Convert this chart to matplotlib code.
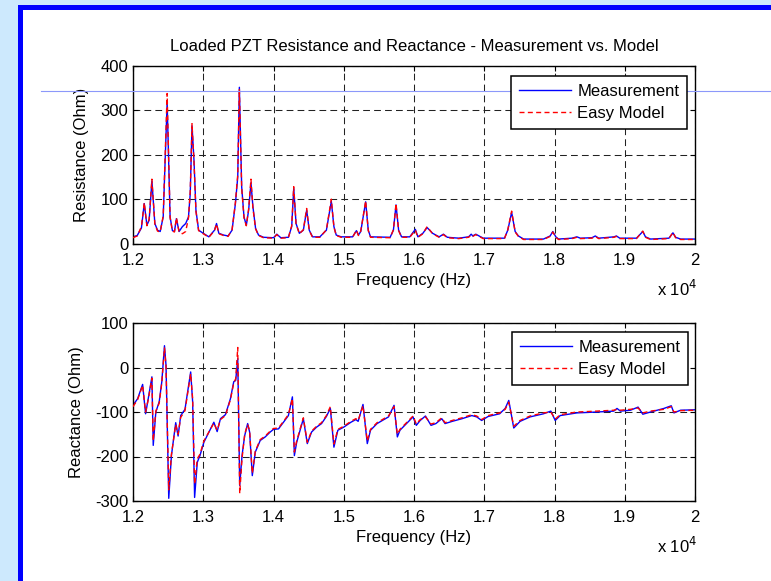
import matplotlib
matplotlib.use("Agg")
import matplotlib.pyplot as plt
from matplotlib.patches import Rectangle
from matplotlib.lines import Line2D
from matplotlib.ticker import FuncFormatter

# ---------------- data ----------------
freq_r = [12000, 12060, 12120, 12160, 12198, 12230, 12269, 12311, 12349, 12387,
          12430, 12486, 12528, 12561, 12590, 12618, 12656, 12703, 12750, 12790,
          12815, 12840, 12868, 12896, 12934, 13000, 13080, 13160, 13189, 13222,
          13290, 13354, 13410, 13458, 13491, 13514, 13547, 13580, 13613, 13646,
          13679, 13707, 13745, 13787, 13858, 14000, 14047, 14104, 14212, 14259,
          14288, 14321, 14368, 14425, 14472, 14509, 14556, 14660, 14753, 14823,
          14860, 14893, 14963, 15126, 15181, 15209, 15242, 15312, 15349, 15381,
          15660, 15707, 15744, 15781, 15823, 15940, 16019, 16056, 16126, 16186,
          16265, 16358, 16419, 16475, 16637, 16777, 16814, 16837, 16879, 16926,
          16986, 17288, 17335, 17390, 17440, 17486, 17560, 17843, 17938, 17976,
          18019, 18057, 18248, 18319, 18367, 18533, 18581, 18629, 18848, 18881,
          18929, 19167, 19257, 19295, 19367, 19629, 19686, 19724, 19795, 20000]

res_meas = [15, 18, 35, 90, 41, 53, 141, 45, 30, 27,
            60, 318, 60, 29, 27, 56, 27, 38, 45, 60,
            113, 265, 188, 75, 30, 23, 15, 30, 45, 23,
            19, 17, 30, 90, 150, 352, 128, 60, 41, 75,
            137, 83, 34, 19, 14, 13, 21, 13, 14, 38,
            124, 45, 23, 30, 75, 30, 15, 15, 30, 95,
            38, 19, 15, 15, 29, 19, 27, 94, 30, 15,
            14, 30, 87, 30, 15, 15, 32, 15, 23, 36,
            23, 15, 21, 14, 12, 15, 21, 17, 21, 17,
            12, 12, 30, 70, 27, 17, 10, 10, 17, 27,
            15, 10, 12, 15, 12, 13, 17, 12, 15, 17,
            12, 12, 27, 15, 10, 12, 24, 14, 10, 10]

res_model = [13, 17, 38, 92, 40, 55, 145, 44, 28, 26,
             62, 338, 58, 28, 26, 58, 26, 22, 27, 58,
             118, 270, 185, 72, 29, 22, 14, 29, 44, 22,
             18, 16, 31, 93, 155, 348, 125, 58, 40, 78,
             145, 80, 33, 18, 13, 12, 20, 12, 13, 40,
             128, 44, 22, 31, 79, 29, 14, 14, 31, 100,
             37, 18, 14, 14, 30, 18, 28, 96, 29, 14,
             13, 31, 90, 29, 14, 14, 30, 14, 22, 38,
             22, 14, 20, 13, 11, 14, 19, 16, 20, 16,
             11, 11, 31, 73, 26, 16, 9, 9, 16, 26,
             14, 9, 11, 14, 11, 12, 16, 11, 14, 16,
             11, 11, 28, 14, 9, 11, 25, 13, 9, 9]

freq_x = [12000, 12066, 12137, 12179, 12217, 12269, 12288, 12325, 12373, 12410,
          12448, 12470, 12509, 12547, 12608, 12642, 12679, 12740, 12821, 12849,
          12877, 12915, 12953, 13009, 13151, 13198, 13245, 13316, 13387, 13434,
          13462, 13491, 13519, 13552, 13590, 13632, 13660, 13698, 13741, 13811,
          13882, 13953, 14000, 14071, 14142, 14212, 14269, 14297, 14330, 14425,
          14481, 14542, 14613, 14684, 14753, 14809, 14860, 14916, 15000, 15102,
          15172, 15205, 15274, 15335, 15381, 15474, 15637, 15716, 15763, 15800,
          15893, 15986, 16033, 16088, 16163, 16242, 16312, 16395, 16442, 16544,
          16684, 16823, 16893, 16963, 17056, 17219, 17298, 17349, 17420, 17510,
          17652, 17843, 17948, 18010, 18081, 18319, 18605, 18843, 18890, 18938,
          19081, 19190, 19257, 19367, 19557, 19662, 19700, 19795, 20000]

reac_meas = [-85, -70, -38, -104, -70, -21, -175, -100, -77, -32,
             49, 5, -294, -198, -124, -154, -108, -94, -10, -77,
             -292, -213, -198, -168, -123, -144, -115, -106, -70, -32,
             -29, 20, -265, -198, -153, -126, -145, -243, -190, -164,
             -156, -145, -139, -138, -123, -108, -66, -198, -168, -115,
             -171, -145, -134, -126, -110, -92, -179, -141, -134, -123,
             -117, -121, -83, -171, -141, -126, -111, -85, -156, -141,
             -126, -111, -130, -119, -109, -130, -126, -115, -126, -121,
             -115, -108, -111, -119, -110, -104, -92, -74, -136, -121,
             -111, -104, -98, -119, -108, -102, -100, -98, -92, -98,
             -96, -89, -105, -100, -92, -86, -102, -96, -95]

reac_model = [-88, -72, -40, -100, -72, -24, -165, -98, -80, -35,
              44, 2, -275, -195, -128, -150, -112, -97, -14, -70,
              -262, -205, -195, -165, -125, -141, -117, -108, -72, -35,
              -25, 45, -283, -205, -150, -128, -142, -238, -188, -162,
              -154, -143, -137, -136, -121, -106, -70, -190, -165, -113,
              -168, -143, -132, -124, -108, -88, -172, -139, -132, -121,
              -115, -119, -86, -165, -139, -124, -109, -88, -150, -139,
              -124, -109, -127, -117, -111, -127, -124, -113, -124, -119,
              -113, -106, -109, -117, -108, -102, -94, -78, -132, -119,
              -109, -102, -100, -116, -106, -100, -98, -96, -94, -96,
              -94, -91, -102, -98, -94, -88, -100, -97, -96]

x_ticks = [12000, 13000, 14000, 15000, 16000, 17000, 18000, 19000, 20000]
r_ticks = [0, 100, 200, 300, 400]
x_ticks2 = [-300, -200, -100, 0, 100]

title_text = "Loaded PZT Resistance and Reactance - Measurement vs. Model"
xlabel_text = "Frequency (Hz)"
ylabel_r = "Resistance (Ohm)"
ylabel_x = "Reactance (Ohm)"
legend_labels = ["Measurement", "Easy Model"]

# ---------------- figure ----------------
W, H = 771, 581
plt.rcParams['font.family'] = ['Liberation Sans', 'DejaVu Sans']
plt.rcParams['axes.unicode_minus'] = False
FS = 12

fig = plt.figure(figsize=(W / 100, H / 100), dpi=100)
fig.patch.set_facecolor('#cde9fd')

# blue framed white panel
fig.add_artist(Rectangle((18 / W, -0.2), 2, 1 - 5 / H + 0.2, transform=fig.transFigure,
                         facecolor='#0000ff', edgecolor='none', zorder=-2))
fig.add_artist(Rectangle((23 / W, -0.2), 2, 1 - 10 / H + 0.2, transform=fig.transFigure,
                         facecolor='white', edgecolor='none', zorder=-1))

L, R = 133, 695
ax1 = fig.add_axes([L / W, 1 - 243.5 / H, (R - L) / W, 177.5 / H])
ax2 = fig.add_axes([L / W, 1 - 501 / H, (R - L) / W, 178 / H])

grid_style = dict(color='#222222', linewidth=0.75, linestyle=(0, (6.5, 4.0)))


def style(ax, yticks, ylim, ylabel, ylab_x):
    ax.set_xlim(12000, 20000)
    ax.set_ylim(*ylim)
    ax.set_xticks(x_ticks)
    ax.set_yticks(yticks)
    ax.xaxis.set_major_formatter(FuncFormatter(lambda v, p: f"{v / 1e4:g}"))
    ax.tick_params(direction='in', length=3.6, width=0.8, top=True, right=True,
                   labelsize=FS, colors='black')
    ax.tick_params(axis='x', pad=6.5)
    ax.tick_params(axis='y', pad=3.5)
    for s in ax.spines.values():
        s.set_linewidth(1.0)
        s.set_color('black')
    ax.grid(True, **grid_style)
    ax.set_axisbelow(True)
    ax.set_xlabel(xlabel_text, fontsize=FS)
    ax.xaxis.label.set_va('center')
    ax.xaxis.set_label_coords(0.5, -0.207)
    ax.set_ylabel(ylabel, fontsize=FS)
    ax.yaxis.label.set_va('center')
    ax.yaxis.set_label_coords(ylab_x, 0.5)
    ax.text(1.004, -0.255, r"x 10$^{4}$", transform=ax.transAxes, ha='right',
            va='center', fontsize=FS)


style(ax1, r_ticks, (0, 400), ylabel_r, (81 - L) / (R - L))
style(ax2, x_ticks2, (-300, 100), ylabel_x, (76 - L) / (R - L))

lm1, = ax1.plot(freq_r, res_meas, color='#0000ff', linewidth=1.0, zorder=2)
ld1, = ax1.plot(freq_r, res_model, color='#ff0000', linewidth=1.0,
                linestyle=(0, (3.6, 2.4)), zorder=3)
lm2, = ax2.plot(freq_x, reac_meas, color='#0000ff', linewidth=1.0, zorder=2)
ld2, = ax2.plot(freq_x, reac_model, color='#ff0000', linewidth=1.0,
                linestyle=(0, (3.6, 2.4)), zorder=3)

ax1.text(0.5, (243.5 - 46.5) / 177.5, title_text, transform=ax1.transAxes,
         ha='center', va='center', fontsize=FS)

leg_kw = dict(loc='upper right', fontsize=FS, frameon=True, fancybox=False,
              borderaxespad=0, borderpad=0.45, labelspacing=0.46,
              handlelength=3.15, handletextpad=0.36, framealpha=1)
leg1 = ax1.legend([lm1, ld1], legend_labels,
                  bbox_to_anchor=((687 - L) / (R - L), (243.5 - 76) / 177.5), **leg_kw)
leg2 = ax2.legend([lm2, ld2], legend_labels,
                  bbox_to_anchor=((688 - L) / (R - L), (501 - 332) / 178), **leg_kw)
for lg in (leg1, leg2):
    lg.get_frame().set_edgecolor('black')
    lg.get_frame().set_linewidth(1.1)

# thin light line crossing the figure (over the plot, under the legend)
gl = Line2D([41 / W, 1.0], [1 - 91 / H, 1 - 91 / H], transform=fig.transFigure,
            color='#8c98fa', linewidth=0.8, zorder=4)
gl.set_clip_on(False)
ax1.add_line(gl)

fig.savefig("out.png", dpi=100, facecolor=fig.get_facecolor())
